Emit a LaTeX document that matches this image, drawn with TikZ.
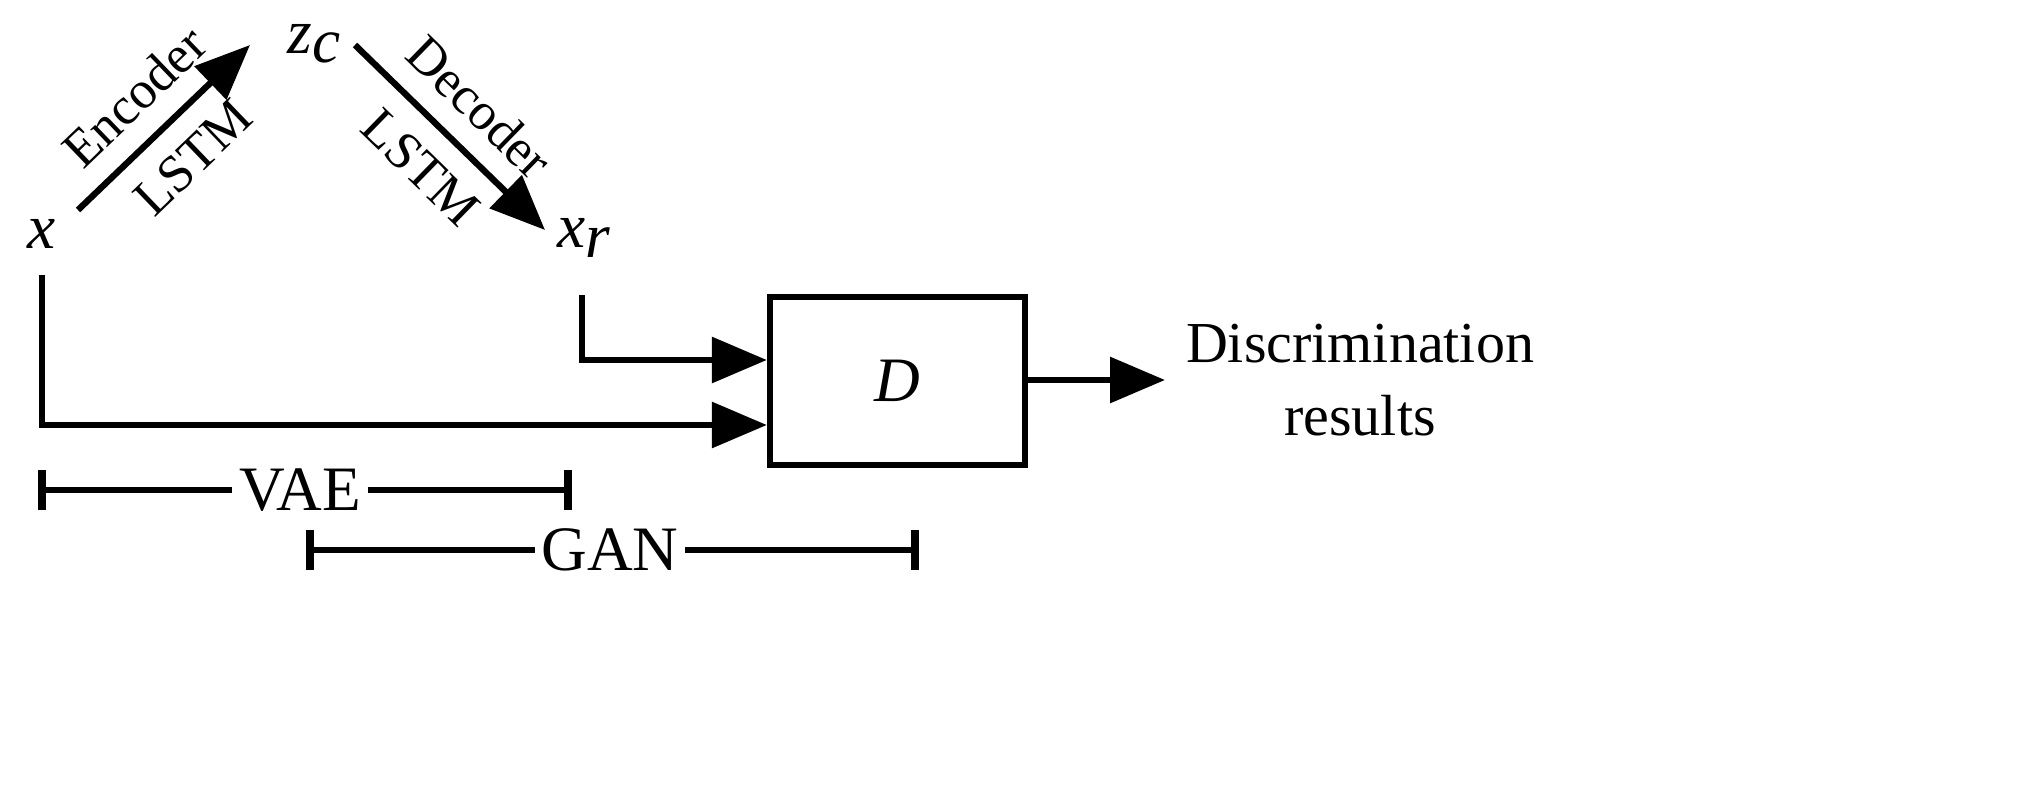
\documentclass[tikz,border=0pt]{standalone}
\usepackage{fontspec}
\setmainfont{Liberation Serif}
\usetikzlibrary{positioning, arrows.meta}

\begin{document}
\begin{tikzpicture}[line width=1.8pt,
    arr/.style={-{Triangle[length=0.55cm,width=0.45cm]}},
    lbl/.style={font=\fontsize{15}{18}\selectfont, inner sep=6pt},
    big/.style={font=\fontsize{18}{22}\selectfont}]
            \useasboundingbox (0, 0) rectangle (20.32, 7.96);
            \node[big] (x) at (0.42, 5.62) {\textit{x}};
            \node[big] (zc) at (3.15, 7.52) {\textit{z}$_{\textit{c}}$};
            \node[big] (xr) at (5.85, 5.58) {\textit{x}$_{\textit{r}}$};
            \node[draw, minimum width=2.55cm, minimum height=1.68cm, big] (D) at (8.975, 4.15) {\textit{D}};
            \node[font=\fontsize{16.5}{21}\selectfont, align=center] (out) at (13.6, 4.16) {Discrimination\\results};

            \coordinate (encA) at (0.78, 5.86);
            \coordinate (encB) at (2.50, 7.51);
            \coordinate (decA) at (3.55, 7.51);
            \coordinate (decB) at (5.45, 5.66);
            \draw [arr] (encA) -- node[lbl, sloped, above] {Encoder} node[lbl, sloped, below] {LSTM} (encB);
            \draw [arr] (decA) -- node[lbl, sloped, above] {Decoder} node[lbl, sloped, below] {LSTM} (decB);

            \draw [arr] (0.42, 5.21) |- (D.west |- 0, 3.71);
            \draw [arr] (5.82, 5.01) |- (D.west |- 0, 4.36);
            \draw [arr] (D.east |- 0, 4.16) -- (11.65, 4.16);

            % bars
            \node[big, fill=white, inner sep=1pt] (vae) at (3.0, 3.06) {VAE};
            \draw (0.42, 3.06) -- (vae);
            \draw (vae) -- (5.68, 3.06);
            \draw[line width=2.4pt] (0.42, 2.86) -- (0.42, 3.26);
            \draw[line width=2.4pt] (5.68, 2.86) -- (5.68, 3.26);
            \node[big, fill=white, inner sep=1pt] (gan) at (6.1, 2.46) {GAN};
            \draw (3.1, 2.46) -- (gan);
            \draw (gan) -- (9.15, 2.46);
            \draw[line width=2.4pt] (3.1, 2.26) -- (3.1, 2.66);
            \draw[line width=2.4pt] (9.15, 2.26) -- (9.15, 2.66);
        \end{tikzpicture}
\end{document}
